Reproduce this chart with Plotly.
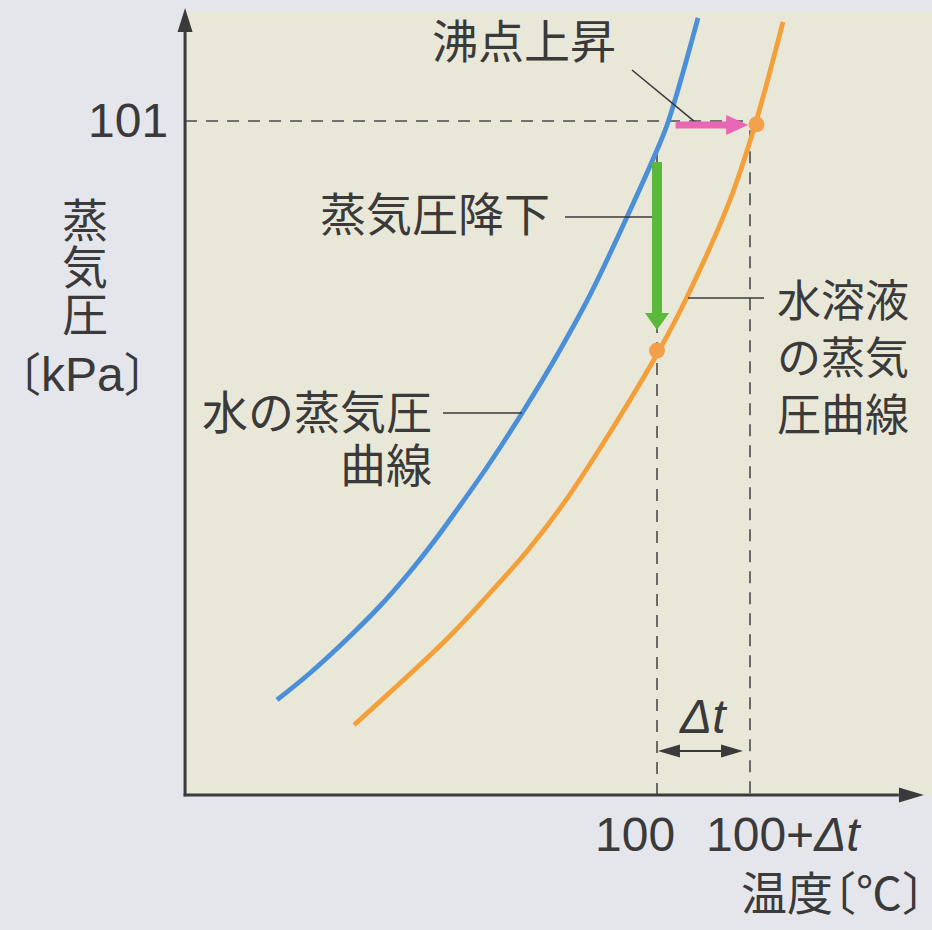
import plotly.graph_objects as go

# ---------------- data (schematic units: temperature in °C with Δt = 1, pressure in kPa) -------------
water_T = [95.914, 96.269, 96.656, 97.011, 97.333, 97.613, 97.871, 98.129, 98.344, 98.570,
           98.914, 99.269, 99.677, 100.000, 100.108, 100.247, 100.441]
water_P = [14.24, 18.28, 23.23, 28.17, 33.27, 38.21, 43.16, 48.25, 52.75, 57.69,
           65.64, 74.63, 86.61, 96.65, 100.40, 106.69, 116.44]
soln_T = [96.742, 97.763, 98.204, 98.613, 99.022, 99.376, 99.710, 100.032, 100.323, 100.785, 101.054, 101.355]
soln_P = [10.49, 23.68, 30.27, 36.71, 44.21, 51.70, 59.19, 66.83, 74.63, 89.16, 100.40, 115.84]

P_ATM = 101          # kPa tick
T_BP = 100           # boiling point of water
DT = 1               # Δt (schematic)
dot_T = [100.0, 101.07]
dot_P = [66.6, 100.5]

x_tick_labels = ["100", "100+<i>Δt</i>"]
y_tick_label = "101"

# ---------------- layout scale ----------------
W, H = 932, 930
X_MIN, X_MAX = 92.935, 102.957
Y_MIN, Y_MAX = -20.23, 119.13
KX = W / (X_MAX - X_MIN)   # px per °C
KY = H / (Y_MAX - Y_MIN)   # px per kPa

X_AX = 94.925              # where the vertical axis sits
TOP = 117.33               # top of the beige panel

PAPER = "#e4e6ec"
PANEL = "#e9e8d8"
BLUE = "#4a8fd8"
ORANGE = "#f4a03a"
DOT = "#f3a04c"
PINK = "#e866b4"
GREEN = "#5ab83a"
INK = "#3a3a3a"
DASH = "#4a4a4a"
CJK = "Noto Sans CJK JP"
LAT = "Liberation Sans"


def _poly(pts):
    return "M " + " L ".join(f"{x / KX:.5f},{y / KY:.5f}" for x, y in pts) + " Z"


def arrow_path(x0, y0, x1, y1, shaft, head_len, head_w):
    X0, Y0, X1, Y1 = x0 * KX, y0 * KY, x1 * KX, y1 * KY
    dx, dy = X1 - X0, Y1 - Y0
    L = (dx * dx + dy * dy) ** 0.5
    ux, uy = dx / L, dy / L
    nx, ny = -uy, ux
    bx, by = X1 - ux * head_len, Y1 - uy * head_len
    s, h = shaft / 2, head_w / 2
    pts = [(X0 + nx * s, Y0 + ny * s), (bx + nx * s, by + ny * s), (bx + nx * h, by + ny * h),
           (X1, Y1), (bx - nx * h, by - ny * h), (bx - nx * s, by - ny * s), (X0 - nx * s, Y0 - ny * s)]
    return _poly(pts)


def head_path(xt, yt, xfrom, yfrom, head_len, head_w):
    X1, Y1, X0, Y0 = xt * KX, yt * KY, xfrom * KX, yfrom * KY
    dx, dy = X1 - X0, Y1 - Y0
    L = (dx * dx + dy * dy) ** 0.5
    ux, uy = dx / L, dy / L
    nx, ny = -uy, ux
    bx, by = X1 - ux * head_len, Y1 - uy * head_len
    h = head_w / 2
    return _poly([(X1, Y1), (bx + nx * h, by + ny * h), (bx - nx * h, by - ny * h)])


fig = go.Figure()

fig.add_trace(go.Scatter(x=water_T, y=water_P, mode="lines",
                         line=dict(color=BLUE, width=4.8, shape="spline", smoothing=1.0),
                         hoverinfo="skip"))
fig.add_trace(go.Scatter(x=soln_T, y=soln_P, mode="lines",
                         line=dict(color=ORANGE, width=4.8, shape="spline", smoothing=1.0),
                         hoverinfo="skip"))
fig.add_trace(go.Scatter(x=dot_T, y=dot_P, mode="markers",
                         marker=dict(color=DOT, size=16, line=dict(width=0)),
                         hoverinfo="skip"))

shapes = []
# beige panel
shapes.append(dict(type="rect", xref="x", yref="y", x0=X_AX, x1=X_MAX, y0=0, y1=TOP,
                   fillcolor=PANEL, line=dict(width=0), layer="below"))
# dashed guide lines
dash = dict(color=DASH, width=1.6, dash="12px,9px")
shapes.append(dict(type="line", xref="x", yref="y", x0=X_AX, x1=101.0, y0=P_ATM, y1=P_ATM,
                   line=dash, layer="below"))
shapes.append(dict(type="line", xref="x", yref="y", x0=T_BP, x1=T_BP, y0=96.2, y1=0,
                   line=dash, layer="below"))
shapes.append(dict(type="line", xref="x", yref="y", x0=T_BP + DT, x1=T_BP + DT, y0=99.6, y1=0,
                   line=dash, layer="below"))
# leader lines
lead = dict(color=INK, width=1.6)
shapes.append(dict(type="line", xref="x", yref="y", x0=99.731, y0=108.64, x1=100.43, y1=100.6, line=lead))
shapes.append(dict(type="line", xref="x", yref="y", x0=99.011, y0=86.61, x1=100.0, y1=86.61, line=lead))
shapes.append(dict(type="line", xref="x", yref="y", x0=100.333, y0=74.48, x1=101.151, y1=74.48, line=lead))
shapes.append(dict(type="line", xref="x", yref="y", x0=97.699, y0=57.24, x1=98.55, y1=57.24, line=lead))
# pink (boiling point elevation) arrow
shapes.append(dict(type="path", xref="x", yref="y", path=arrow_path(100.20, 100.4, 100.98, 100.4, 7, 22, 20),
                   fillcolor=PINK, line=dict(width=0)))
# green (vapour pressure lowering) arrow
shapes.append(dict(type="path", xref="x", yref="y", path=arrow_path(100.0, 94.86, 100.0, 69.68, 10, 17, 24),
                   fillcolor=GREEN, line=dict(width=0)))
# Δt double arrow
shapes.append(dict(type="line", xref="x", yref="y", x0=100.10, x1=100.84, y0=6.59, y1=6.59,
                   line=dict(color=INK, width=2)))
shapes.append(dict(type="path", xref="x", yref="y", path=head_path(100.01, 6.59, 100.5, 6.59, 22, 13),
                   fillcolor=INK, line=dict(width=0)))
shapes.append(dict(type="path", xref="x", yref="y", path=head_path(100.925, 6.59, 100.5, 6.59, 22, 13),
                   fillcolor=INK, line=dict(width=0)))
# axes with arrowheads
shapes.append(dict(type="line", xref="x", yref="y", x0=X_AX, x1=X_AX, y0=-0.2, y1=115.0,
                   line=dict(color=INK, width=3)))
shapes.append(dict(type="path", xref="x", yref="y", path=head_path(X_AX, 117.93, X_AX, 50, 24, 15),
                   fillcolor=INK, line=dict(width=0)))
shapes.append(dict(type="line", xref="x", yref="y", x0=X_AX - 0.015, x1=102.6, y0=0, y1=0,
                   line=dict(color=INK, width=3)))
shapes.append(dict(type="path", xref="x", yref="y", path=head_path(102.87, 0, 100, 0, 25, 15),
                   fillcolor=INK, line=dict(width=0)))

ann = []


def txt(x, y, s, size=46, family=CJK, xanchor="center", yanchor="middle", align="center"):
    ann.append(dict(x=x, y=y, xref="x", yref="y", text=s, showarrow=False,
                    xanchor=xanchor, yanchor=yanchor, align=align,
                    font=dict(family=family, size=size, color=INK)))


def half(c):
    # half-width Japanese bracket (OpenType 'halt')
    return f"<span style=\"font-feature-settings:'halt'\">{c}</span>"


def big(s, px=46):
    return f"<span style=\"font-size:{px}px\">{s}</span>"


# tick labels
txt(94.76, P_ATM, y_tick_label, size=48, family=LAT, xanchor="right")
txt(99.763, -5.99, x_tick_labels[0], size=48, family=LAT)
txt(101.355, -5.99, x_tick_labels[1], size=48, family=LAT)
txt(100.495, 11.69, "<i>Δt</i>", size=48, family=LAT)
# axis titles
txt(93.849, 79.6, "<br>".join(big(c) for c in ["蒸", "気", "圧"]), size=36)
txt(93.823, 63.5, half("〔") + "<span style=\"font-family:'Liberation Sans';font-size:48px\">kPa</span>"
    + half("〕"))
txt(101.892, -14.3, "温度" + half("〔") + "℃" + half("〕"))
# labels
txt(98.57, 113.44, "沸点上昇")
txt(97.61, 87.51, "蒸気圧降下")
txt(102.0, 65.9, "水溶液<br>の蒸気<br>圧曲線", size=44)
txt(97.60, 53.9, big("水の蒸気圧") + "<br>" + big("曲線"), size=41, xanchor="right", align="right")

fig.update_layout(
    width=W, height=H, autosize=False,
    margin=dict(l=0, r=0, t=0, b=0),
    paper_bgcolor=PAPER, plot_bgcolor=PAPER,
    showlegend=False,
    xaxis=dict(range=[X_MIN, X_MAX], visible=False, fixedrange=True),
    yaxis=dict(range=[Y_MIN, Y_MAX], visible=False, fixedrange=True),
    shapes=shapes, annotations=ann,
)

fig.write_html("out.html", config={"displayModeBar": False},
               post_script="document.body.style.margin='0';document.body.style.overflow='hidden';")
